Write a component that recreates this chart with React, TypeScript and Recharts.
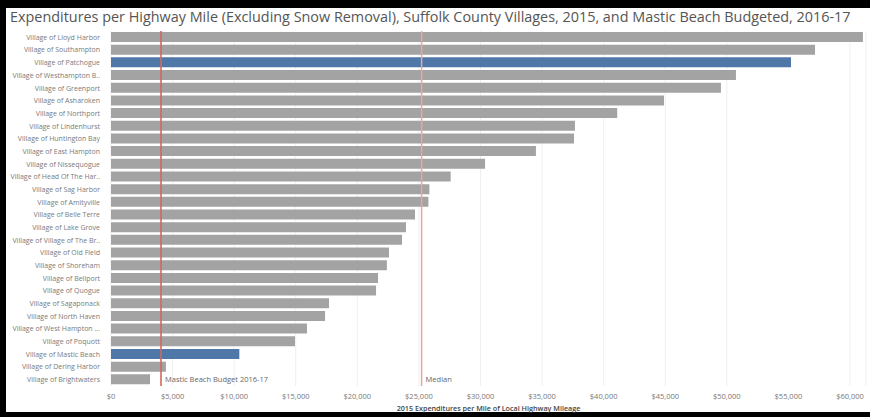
import { BarChart, Bar, XAxis, YAxis, Cell, CartesianGrid, ReferenceLine } from 'recharts';

const villages = [
  'Village of Lloyd Harbor',
  'Village of Southampton',
  'Village of Patchogue',
  'Village of Westhampton B..',
  'Village of Greenport',
  'Village of Asharoken',
  'Village of Northport',
  'Village of Lindenhurst',
  'Village of Huntington Bay',
  'Village of East Hampton',
  'Village of Nissequogue',
  'Village of Head Of The Har..',
  'Village of Sag Harbor',
  'Village of Amityville',
  'Village of Belle Terre',
  'Village of Lake Grove',
  'Village of Village of The Br..',
  'Village of Old Field',
  'Village of Shoreham',
  'Village of Bellport',
  'Village of Quogue',
  'Village of Sagaponack',
  'Village of North Haven',
  'Village of West Hampton ...',
  'Village of Poquott',
  'Village of Mastic Beach',
  'Village of Dering Harbor',
  'Village of Brightwaters',
];

const expenditures = [
  61050, 57160, 55210, 50740, 49520, 44900, 41100, 37670, 37590, 34500,
  30370, 27580, 25850, 25770, 24680, 23950, 23630, 22570, 22400, 21680,
  21520, 17700, 17380, 15910, 14940, 10420, 4460, 3170,
];

const highlighted = ['Village of Patchogue', 'Village of Mastic Beach'];

const xTicks = [0, 5000, 10000, 15000, 20000, 25000, 30000, 35000, 40000, 45000, 50000, 55000, 60000];

const masticBudget = 4060;
const median = 25220;

const data = villages.map((name, i) => ({ name, value: expenditures[i] }));

const FONT = '"Open Sans", sans-serif';

const fmt = (v: number) => '$' + v.toLocaleString('en-US');

function lineLabel(text: string) {
  return (props: any) => {
    const { x, y, height } = props.viewBox;
    return (
      <text x={x + 4} y={y + height - 4} fontSize={7.5} fill="#666" fontFamily={FONT}>
        {text}
      </text>
    );
  };
}

function VillageTick(props: any) {
  const { x, y, payload } = props;
  return (
    <text x={x - 3} y={y} dy="0.35em" textAnchor="end" fontSize={7} fill="#7a7a7a" fontFamily={FONT}>
      {payload.value}
    </text>
  );
}

export default function App() {
  return (
    <div style={{ position: 'fixed', left: 0, top: 0, width: 870, height: 417, background: '#000' }}>
      <div style={{ position: 'absolute', left: 6, top: 8, width: 870, height: 404, background: '#fff' }} />
      <div
        style={{
          position: 'absolute',
          left: 10,
          top: 7,
          fontFamily: FONT,
          fontSize: 14.4,
          color: '#555',
          whiteSpace: 'nowrap',
          lineHeight: '19px',
        }}
      >
        Expenditures per Highway Mile (Excluding Snow Removal), Suffolk County Villages, 2015, and Mastic Beach Budgeted, 2016-17
      </div>
      <div style={{ position: 'absolute', left: 0, top: 0 }}>
        <BarChart
          width={870}
          height={417}
          data={data}
          layout="vertical"
          margin={{ top: 31, right: 4, bottom: 13, left: 6 }}
        >
          <CartesianGrid horizontal={false} stroke="#efefef" />
          <XAxis
            type="number"
            domain={[0, 61300]}
            ticks={xTicks}
            tickFormatter={fmt}
            axisLine={false}
            tickLine={false}
            height={18}
            tick={{ fill: '#777', fontSize: 7.5, fontFamily: FONT }}
          />
          <YAxis
            type="category"
            dataKey="name"
            width={105}
            axisLine={false}
            tickLine={false}
            interval={0}
            tick={<VillageTick />}
          />
          <Bar dataKey="value" barSize={10} isAnimationActive={false}>
            {data.map((d) => (
              <Cell key={d.name} fill={highlighted.includes(d.name) ? '#4f77a8' : '#a3a3a3'} />
            ))}
          </Bar>
          <ReferenceLine x={masticBudget} stroke="#d2695c" strokeWidth={1.6} label={lineLabel('Mastic Beach Budget 2016-17')} />
          <ReferenceLine x={median} stroke="#e3aaa4" strokeWidth={1.5} label={lineLabel('Median')} />
        </BarChart>
      </div>
      <div
        style={{
          position: 'absolute',
          left: 111,
          width: 755,
          top: 403,
          textAlign: 'center',
          fontFamily: FONT,
          fontSize: 7.2,
          fontWeight: 600,
          color: '#444',
          lineHeight: '10px',
        }}
      >
        2015 Expenditures per Mile of Local Highway Mileage
      </div>
    </div>
  );
}
